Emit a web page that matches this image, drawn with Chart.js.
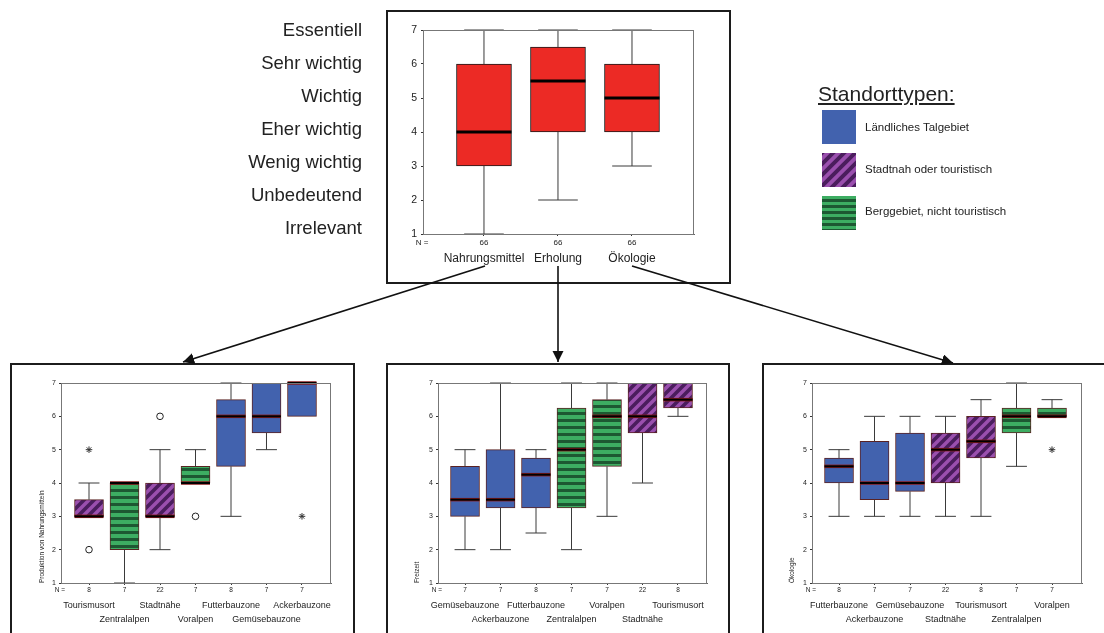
<!DOCTYPE html>
<html>
<head>
<meta charset="utf-8">
<script src="https://cdn.jsdelivr.net/npm/chart.js@4.4.1/dist/chart.umd.min.js"></script>
<style>
  body { margin: 0; width: 1104px; height: 633px; background: #fff; position: relative; overflow: hidden;
         font-family: "Liberation Sans", Arial, sans-serif; color: #222; }
  canvas { position: absolute; }
  .frame { position: absolute; border: 2px solid #1c1c1c; box-sizing: border-box; pointer-events: none; }
  .legend-title { position: absolute; left: 818px; top: 82px; font-size: 21px; text-decoration: underline; text-underline-offset: 2px; }
  .sw { position: absolute; left: 822px; width: 34px; height: 34px; }
  .lbl { position: absolute; left: 865px; font-size: 11.5px; line-height: 14px; }
  svg { position: absolute; left: 0; top: 0; }
</style>
</head>
<body>

<canvas id="topChart" width="492" height="268" style="left:236px; top:13px"></canvas>
<canvas id="foodChart" width="314" height="267" style="left:38px; top:366px"></canvas>
<canvas id="leisureChart" width="314" height="267" style="left:413px; top:366px"></canvas>
<canvas id="ecoChart" width="314" height="267" style="left:788px; top:366px"></canvas>

<div class="frame" style="left:386px; top:10px; width:345px; height:274px"></div>
<div class="frame" style="left:10px; top:363px; width:345px; height:300px"></div>
<div class="frame" style="left:386px; top:363px; width:344px; height:300px"></div>
<div class="frame" style="left:762px; top:363px; width:400px; height:300px"></div>

<svg width="1104" height="633">
  <defs>
    <marker id="head" viewBox="0 0 10 10" refX="10" refY="5" markerWidth="7" markerHeight="7" orient="auto">
      <path d="M0,0 L10,5 L0,10 z" fill="#111"/>
    </marker>
  </defs>
  <g stroke="#111" stroke-width="1.6" marker-end="url(#head)">
    <line x1="485" y1="266" x2="183" y2="362"/>
    <line x1="558" y1="266" x2="558" y2="362"/>
    <line x1="632" y1="266" x2="953" y2="363"/>
  </g>
</svg>

<div class="legend-title">Standorttypen:</div>
<div class="sw" id="swTal" style="top:110px"></div>
<div class="lbl" id="lbTal" style="top:120px"></div>
<div class="sw" id="swStadt" style="top:153px"></div>
<div class="lbl" id="lbStadt" style="top:162px"></div>
<div class="sw" id="swBerg" style="top:196px"></div>
<div class="lbl" id="lbBerg" style="top:204px"></div>

<script>
// Wichtigkeitsskala 1..7
const levelLabels = ['Irrelevant', 'Unbedeutend', 'Wenig wichtig', 'Eher wichtig', 'Wichtig', 'Sehr wichtig', 'Essentiell'];
const levelTicks = [1, 2, 3, 4, 5, 6, 7];

const typeNames = { tal: 'Ländliches Talgebiet', stadt: 'Stadtnah oder touristisch', berg: 'Berggebiet, nicht touristisch' };

// Gesamt
const topCats = ['Nahrungsmittel', 'Erholung', 'Ökologie'];
const topN = [66, 66, 66];
const topLow = [1, 2, 3];
const topQ1 = [3, 4, 4];
const topMed = [4, 5.5, 5];
const topQ3 = [6, 6.5, 6];
const topHigh = [7, 7, 7];

// Produktion von Nahrungsmitteln
const foodCats = ['Tourismusort', 'Zentralalpen', 'Stadtnähe', 'Voralpen', 'Futterbauzone', 'Gemüsebauzone', 'Ackerbauzone'];
const foodTypes = ['stadt', 'berg', 'stadt', 'berg', 'tal', 'tal', 'tal'];
const foodN = [8, 7, 22, 7, 8, 7, 7];
const foodLow = [3, 1, 2, 4, 3, 5, 6];
const foodQ1 = [3, 2, 3, 4, 4.5, 5.5, 6];
const foodMed = [3, 4, 3, 4, 6, 6, 7];
const foodQ3 = [3.5, 4, 4, 4.5, 6.5, 7, 7];
const foodHigh = [4, 4, 5, 5, 7, 7, 7];
const foodCircles = [[1, 2], [3, 6], [4, 3]];
const foodStars = [[1, 5], [7, 3]];

// Freizeit
const leisureCats = ['Gemüsebauzone', 'Ackerbauzone', 'Futterbauzone', 'Zentralalpen', 'Voralpen', 'Stadtnähe', 'Tourismusort'];
const leisureTypes = ['tal', 'tal', 'tal', 'berg', 'berg', 'stadt', 'stadt'];
const leisureN = [7, 7, 8, 7, 7, 22, 8];
const leisureLow = [2, 2, 2.5, 2, 3, 4, 6];
const leisureQ1 = [3, 3.25, 3.25, 3.25, 4.5, 5.5, 6.25];
const leisureMed = [3.5, 3.5, 4.25, 5, 6, 6, 6.5];
const leisureQ3 = [4.5, 5, 4.75, 6.25, 6.5, 7, 7];
const leisureHigh = [5, 7, 5, 7, 7, 7, 7];

// Ökologie
const ecoCats = ['Futterbauzone', 'Ackerbauzone', 'Gemüsebauzone', 'Stadtnähe', 'Tourismusort', 'Zentralalpen', 'Voralpen'];
const ecoTypes = ['tal', 'tal', 'tal', 'stadt', 'stadt', 'berg', 'berg'];
const ecoN = [8, 7, 7, 22, 8, 7, 7];
const ecoLow = [3, 3, 3, 3, 3, 4.5, 6];
const ecoQ1 = [4, 3.5, 3.75, 4, 4.75, 5.5, 6];
const ecoMed = [4.5, 4, 4, 5, 5.25, 6, 6];
const ecoQ3 = [4.75, 5.25, 5.5, 5.5, 6, 6.25, 6.25];
const ecoHigh = [5, 6, 6, 6, 6.5, 7, 6.5];
const ecoStars = [[7, 5]];

Chart.defaults.font.family = "'Liberation Sans', Arial, sans-serif";
Chart.defaults.color = '#222';

function makeFill(kind, tile) {
  const c = document.createElement('canvas');
  const g = c.getContext('2d');
  if (kind === 'berg') {
    const dark = Math.round(tile * 0.42);
    c.width = 6; c.height = tile;
    g.fillStyle = '#3dad62'; g.fillRect(0, 0, 6, tile);
    g.fillStyle = '#1d5832'; g.fillRect(0, tile - dark, 6, dark);
  } else if (kind === 'stadt') {
    c.width = tile; c.height = tile;
    g.fillStyle = '#9a4fae'; g.fillRect(0, 0, tile, tile);
    g.strokeStyle = '#4a1d5d'; g.lineWidth = tile * 0.36;
    g.beginPath();
    g.moveTo(-2, tile + 2); g.lineTo(tile + 2, -2);
    g.moveTo(-2, 2); g.lineTo(2, -2);
    g.moveTo(tile - 2, tile + 2); g.lineTo(tile + 2, tile - 2);
    g.stroke();
  } else {
    return '#4262ae';
  }
  return g.createPattern(c, 'repeat');
}

// legend
[['tal', 'swTal', 'lbTal'], ['stadt', 'swStadt', 'lbStadt'], ['berg', 'swBerg', 'lbBerg']].forEach(([k, sw, lb]) => {
  const el = document.getElementById(sw);
  const c = document.createElement('canvas');
  c.width = 34; c.height = 34;
  c.style.position = 'static';
  const g = c.getContext('2d');
  g.fillStyle = makeFill(k, k === 'berg' ? 6 : 11);
  g.fillRect(0, 0, 34, 34);
  el.appendChild(c);
  document.getElementById(lb).textContent = typeNames[k];
});

// label padding of the ticks must not push the plot area around
function noPad(s) {
  s.paddingTop = 0; s.paddingBottom = 0; s.paddingLeft = 0; s.paddingRight = 0;
}

function boxPlugin(o) {
  return {
    id: 'boxExtras',
    afterDatasetsDraw(chart) {
      const { ctx, scales: { y } } = chart;
      const meta = chart.getDatasetMeta(0);
      ctx.save();
      meta.data.forEach((bar, i) => {
        const x = bar.x, hw = bar.width / 2, cw = hw * 0.72;
        const yQ1 = y.getPixelForValue(o.q1[i]), yQ3 = y.getPixelForValue(o.q3[i]);
        const yLo = y.getPixelForValue(o.low[i]), yHi = y.getPixelForValue(o.high[i]);
        ctx.strokeStyle = '#3a3a3a';
        ctx.lineWidth = 1;
        ctx.beginPath();
        if (o.high[i] > o.q3[i]) {
          ctx.moveTo(x, yQ3); ctx.lineTo(x, yHi);
          ctx.moveTo(x - cw, yHi); ctx.lineTo(x + cw, yHi);
        }
        if (o.low[i] < o.q1[i]) {
          ctx.moveTo(x, yQ1); ctx.lineTo(x, yLo);
          ctx.moveTo(x - cw, yLo); ctx.lineTo(x + cw, yLo);
        }
        ctx.stroke();
        const yMed = y.getPixelForValue(o.med[i]);
        if (o.medEdge) {
          ctx.strokeStyle = o.medEdge; ctx.lineWidth = o.medW + 1.5;
          ctx.beginPath(); ctx.moveTo(x - hw, yMed); ctx.lineTo(x + hw, yMed); ctx.stroke();
        }
        ctx.strokeStyle = '#000'; ctx.lineWidth = o.medW;
        ctx.beginPath(); ctx.moveTo(x - hw, yMed); ctx.lineTo(x + hw, yMed); ctx.stroke();
      });
      ctx.restore();
    },
    afterDraw(chart) {
      const { ctx, chartArea: a } = chart;
      ctx.save();
      ctx.strokeStyle = '#777';
      ctx.lineWidth = 1;
      ctx.strokeRect(a.left + 0.5, a.top + 0.5, a.right - a.left - 1, a.bottom - a.top);
      ctx.fillStyle = '#222';
      ctx.font = o.nFont + "px 'Liberation Sans', Arial, sans-serif";
      ctx.textAlign = 'center';
      ctx.textBaseline = 'middle';
      const ny = a.bottom + o.nGap;
      ctx.fillText('N =', a.left - 1, ny);
      chart.getDatasetMeta(0).data.forEach((bar, i) => ctx.fillText(String(o.n[i]), bar.x, ny));
      ctx.restore();
    }
  };
}

function boxChart(id, o) {
  const ctx = document.getElementById(id);
  const yScales = {
    y: {
      min: 1, max: 7, weight: 0,
      afterFit: s => { s.width = o.yW; noPad(s); },
      afterBuildTicks: s => { s.ticks = levelTicks.map(v => ({ value: v })); },
      ticks: { font: { size: o.yFont }, padding: o.yPad, color: '#222' },
      grid: { display: true, drawOnChartArea: false, tickLength: o.yTick, color: '#333' },
      border: { display: true, color: '#666' },
      title: o.yTitle ? { display: true, text: o.yTitle, align: 'start', padding: 0, font: { size: 6.5 }, color: '#222' } : { display: false }
    }
  };
  if (o.levels) {
    yScales.yLevels = {
      position: 'left', weight: 1, min: 0.84, max: 7.03,
      afterFit: s => { s.width = 150; noPad(s); },
      afterBuildTicks: s => { s.ticks = levelTicks.map(v => ({ value: v })); },
      ticks: { callback: (v, i) => levelLabels[i], font: { size: 18.5 }, padding: 16, color: '#222' },
      grid: { display: false },
      border: { display: false }
    };
  }
  const fills = o.types ? o.types.map(t => makeFill(t, t === 'berg' ? 7 : 10)) : '#ec2a25';
  return new Chart(ctx, {
    type: 'bar',
    data: {
      datasets: [
        {
          data: o.cats.map((c, i) => ({ x: i + 1, y: [o.q1[i], o.q3[i]] })),
          backgroundColor: fills,
          borderColor: o.types ? '#5a2222' : '#1a1a1a',
          borderWidth: 1,
          borderSkipped: false,
          barThickness: o.boxW
        },
        {
          type: 'scatter',
          data: (o.circles || []).map(p => ({ x: p[0], y: p[1] })),
          pointStyle: 'circle', radius: 3.3, borderColor: '#222', backgroundColor: 'rgba(0,0,0,0)', borderWidth: 1
        },
        {
          type: 'scatter',
          data: (o.stars || []).map(p => ({ x: p[0], y: p[1] })),
          pointStyle: 'star', radius: 3.3, borderColor: '#333', borderWidth: 1
        }
      ]
    },
    options: {
      responsive: false,
      animation: false,
      layout: { padding: { top: o.padTop, right: o.padRight, left: 0, bottom: 0 } },
      plugins: { legend: { display: false }, tooltip: { enabled: false } },
      scales: Object.assign({
        x: {
          type: 'linear', min: o.xMin, max: o.xMax, offset: false,
          afterFit: s => { s.height = o.xH; noPad(s); },
          afterBuildTicks: s => { s.ticks = o.cats.map((c, i) => ({ value: i + 1 })); },
          ticks: {
            autoSkip: false, maxRotation: 0, minRotation: 0, padding: o.xPad,
            font: { size: o.xFont, lineHeight: o.xLine },
            color: '#222',
            callback: (v, i) => (o.stagger && i % 2 ? ['', o.cats[i]] : o.cats[i])
          },
          grid: { display: true, drawOnChartArea: false, offset: false, tickLength: o.xTick, color: '#333' },
          border: { display: true, color: '#666' }
        }
      }, yScales)
    },
    plugins: [boxPlugin(o)]
  });
}

boxChart('topChart', {
  cats: topCats, n: topN, low: topLow, q1: topQ1, med: topMed, q3: topQ3, high: topHigh,
  levels: true, boxW: 55, medW: 3, nFont: 8, nGap: 9,
  yW: 37, yFont: 10.5, yPad: 4, yTick: 2,
  xMin: 0.176, xMax: 3.838, xH: 47, xPad: 15, xFont: 12, xLine: 1.2, xTick: 2,
  padTop: 17, padRight: 34
});

const bottom = { boxW: 29, medW: 2, medEdge: '#8a1c1c', nFont: 6.5, nGap: 7, yFont: 7, yPad: 3, yTick: 2,
  xH: 50, xPad: 13, xFont: 9, xLine: 1.56, xTick: 2, padTop: 17, stagger: true };

boxChart('foodChart', Object.assign({}, bottom, {
  cats: foodCats, types: foodTypes, n: foodN, low: foodLow, q1: foodQ1, med: foodMed, q3: foodQ3, high: foodHigh,
  circles: foodCircles, stars: foodStars, yTitle: 'Produktion von Nahrungsmitteln',
  yW: 23, xMin: 0.211, xMax: 7.817, padRight: 21
}));

boxChart('leisureChart', Object.assign({}, bottom, {
  cats: leisureCats, types: leisureTypes, n: leisureN, low: leisureLow, q1: leisureQ1, med: leisureMed, q3: leisureQ3, high: leisureHigh,
  yTitle: 'Freizeit',
  yW: 25, xMin: 0.239, xMax: 7.817, padRight: 20
}));

boxChart('ecoChart', Object.assign({}, bottom, {
  cats: ecoCats, types: ecoTypes, n: ecoN, low: ecoLow, q1: ecoQ1, med: ecoMed, q3: ecoQ3, high: ecoHigh,
  stars: ecoStars, yTitle: 'Ökologie',
  yW: 24, xMin: 0.239, xMax: 7.845, padRight: 20
}));
</script>
</body>
</html>
